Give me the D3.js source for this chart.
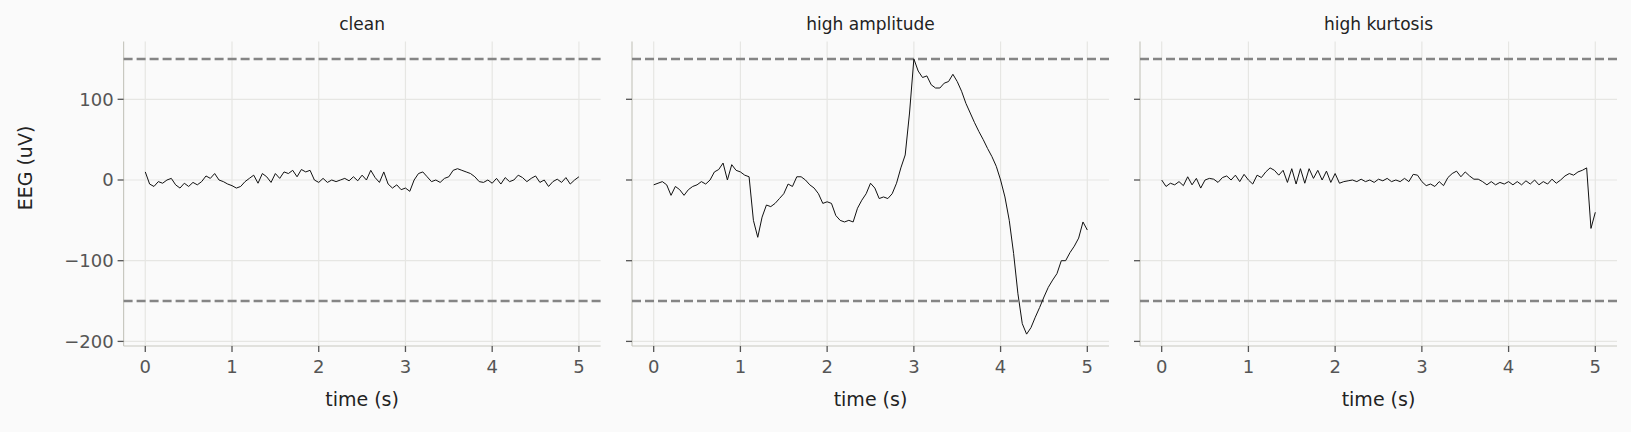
<!DOCTYPE html>
<html><head><meta charset="utf-8">
<script src="https://cdn.jsdelivr.net/npm/d3@7"></script>
<style>body{margin:0;background:#fafafa;}svg{display:block;font-family:"DejaVu Sans",sans-serif;}</style>
</head><body>
<script>
const titles = ["clean", "high amplitude", "high kurtosis"];
const yTicks = [-200, -100, 0, 100];
const xTicks = [0, 1, 2, 3, 4, 5];
const thresholds = [150, -150];
const cleanValues = [10,-5,-8,-2,-4,0,2,-6,-10,-4,-8,-3,-6,-2,5,2,8,0,-2,-5,-7,-10,-8,-2,2,6,-4,8,4,-3,8,2,10,8,12,4,13,10,12,0,-3,2,-3,0,-2,0,2,-1,4,-1,6,0,12,3,-3,10,-5,-10,-6,-12,-10,-14,0,8,10,4,-2,0,-3,2,4,12,14,12,10,8,4,-2,-3,0,-4,2,-5,3,-2,0,6,3,-2,2,5,-3,0,-8,-2,1,-3,3,-5,0,4];
const ampValues = [-6,-4,-2,-6,-19,-8,-12,-19,-12,-8,-6,-2,-5,0,10,13,21,0,19,12,10,6,4,-50,-71,-46,-31,-33,-29,-23,-17,-5,-8,4,4,0,-6,-10,-17,-29,-27,-29,-44,-50,-52,-50,-52,-35,-25,-17,-4,-10,-23,-21,-23,-17,-4,15,31,83,150,135,127,129,118,114,114,120,122,131,122,110,95,83,71,60,50,39,29,17,0,-21,-50,-91,-141,-178,-191,-183,-170,-158,-145,-133,-124,-116,-100,-100,-90,-82,-72,-52,-62];
const kurtValues = [0,-8,-4,-6,-2,-7,4,-6,2,-10,0,2,1,-3,3,5,0,6,-2,7,0,-5,6,3,10,15,12,6,12,-3,14,-5,14,-4,14,2,12,0,11,-3,8,-4,-2,-1,0,-2,1,-2,0,-3,1,-1,2,-2,0,-2,2,-2,7,6,-2,-7,-5,-8,-2,-7,3,8,11,4,10,5,1,1,-2,-6,-2,-6,-3,-5,-2,-6,-2,-6,-1,-5,0,-6,-2,-5,1,-4,0,5,8,6,10,12,15,-60,-40];
const series = [cleanValues, ampValues, kurtValues];
const duration = 5;

const W = 1631, H = 432;
const svg = d3.select("body").append("svg").attr("width", W).attr("height", H);
const panels = [[123.6, 600.6], [632, 1109], [1140, 1617]];
const yTop = 41.6, yBottom = 346;
const y = d3.scaleLinear().domain([-205.7, 171.5]).range([yBottom, yTop]);

panels.forEach(([l, r], i) => {
  const x = d3.scaleLinear().domain([-0.25, 5.25]).range([l, r]);
  const g = svg.append("g");
  g.selectAll(".gx").data(xTicks).join("line").attr("x1", d => x(d)).attr("x2", d => x(d))
    .attr("y1", yTop).attr("y2", yBottom).attr("stroke", "#e6e6e3").attr("stroke-width", 1.2);
  g.selectAll(".gy").data(yTicks.filter(d => d > -205)).join("line").attr("y1", d => y(d)).attr("y2", d => y(d))
    .attr("x1", l).attr("x2", r).attr("stroke", "#e6e6e3").attr("stroke-width", 1.2);
  g.append("line").attr("x1", l).attr("x2", l).attr("y1", yTop).attr("y2", yBottom).attr("stroke", "#c8c8c0").attr("stroke-width", 1.2);
  g.append("line").attr("x1", l).attr("x2", r).attr("y1", yBottom).attr("y2", yBottom).attr("stroke", "#c8c8c0").attr("stroke-width", 1.2);
  thresholds.forEach(t => g.append("line").attr("x1", l).attr("x2", r).attr("y1", y(t)).attr("y2", y(t))
    .attr("stroke", "#858585").attr("stroke-width", 2.4).attr("stroke-dasharray", "9,4"));
  yTicks.forEach(t => {
    g.append("line").attr("x1", l - 6).attr("x2", l).attr("y1", y(t)).attr("y2", y(t)).attr("stroke", "#555").attr("stroke-width", 1.3);
    if (i === 0) g.append("text").attr("x", l - 10).attr("y", y(t)).attr("dy", "0.35em").attr("text-anchor", "end")
      .attr("font-size", 18).attr("fill", "#555").text(t < 0 ? "\u2212" + (-t) : t);
  });
  xTicks.forEach(t => {
    g.append("line").attr("x1", x(t)).attr("x2", x(t)).attr("y1", yBottom).attr("y2", yBottom + 6).attr("stroke", "#555").attr("stroke-width", 1.3);
    g.append("text").attr("x", x(t)).attr("y", yBottom + 27).attr("text-anchor", "middle").attr("font-size", 18).attr("fill", "#555").text(t);
  });
  g.append("text").attr("x", (l + r) / 2).attr("y", yBottom + 60).attr("text-anchor", "middle").attr("font-size", 19).attr("fill", "#222").text("time (s)");
  g.append("text").attr("x", (l + r) / 2).attr("y", 30).attr("text-anchor", "middle").attr("font-size", 17).attr("fill", "#222").text(titles[i]);
  const vals = series[i];
  const line = d3.line().x((d, j) => x(j * duration / (vals.length - 1))).y(d => y(d));
  g.append("path").datum(vals).attr("d", line).attr("fill", "none").attr("stroke", "#111").attr("stroke-width", 1);
});
svg.append("text").attr("transform", `translate(32,${y(0) - 12}) rotate(-90)`).attr("text-anchor", "middle")
  .attr("font-size", 19).attr("fill", "#222").text("EEG (uV)");
</script>
</body></html>
